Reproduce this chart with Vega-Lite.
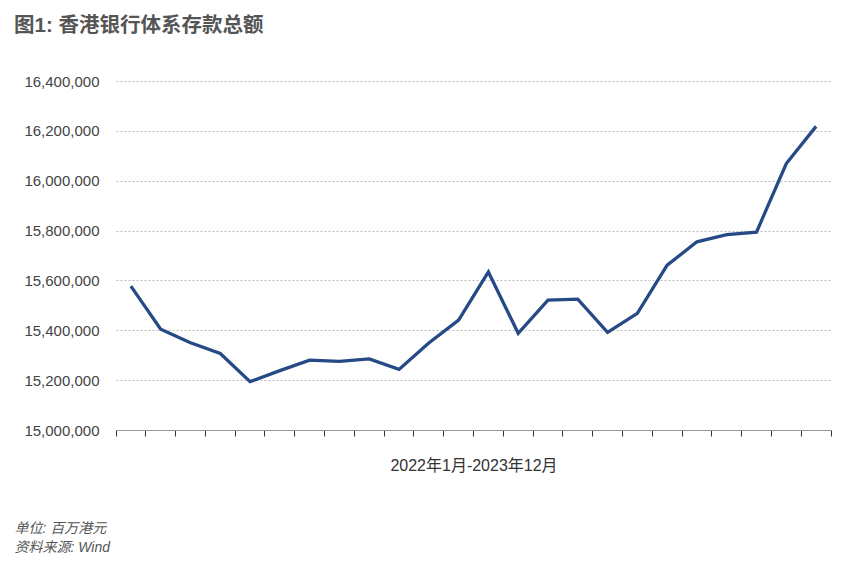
{
  "$schema": "https://vega.github.io/schema/vega-lite/v6.json",
  "autosize": {"type": "none"},
  "width": 715,
  "height": 349,
  "padding": {"left": 116, "top": 81, "right": 22, "bottom": 137},
  "background": "white",
  "title": {
    "text": "图1: 香港银行体系存款总额",
    "anchor": "start",
    "frame": "group",
    "dx": -102,
    "offset": 38,
    "font": "Liberation Sans, Noto Sans CJK SC",
    "fontSize": 20.5,
    "fontWeight": "bold",
    "color": "#555555"
  },
  "config": {
    "view": {"stroke": null},
    "font": "Liberation Sans"
  },
  "data": {
    "values": [
      {"month": "2022-01", "deposit": 15577000},
      {"month": "2022-02", "deposit": 15404000},
      {"month": "2022-03", "deposit": 15350000},
      {"month": "2022-04", "deposit": 15307000},
      {"month": "2022-05", "deposit": 15194000},
      {"month": "2022-06", "deposit": 15238000},
      {"month": "2022-07", "deposit": 15280000},
      {"month": "2022-08", "deposit": 15275000},
      {"month": "2022-09", "deposit": 15285000},
      {"month": "2022-10", "deposit": 15243000},
      {"month": "2022-11", "deposit": 15349000},
      {"month": "2022-12", "deposit": 15441000},
      {"month": "2023-01", "deposit": 15634000},
      {"month": "2023-02", "deposit": 15388000},
      {"month": "2023-03", "deposit": 15521000},
      {"month": "2023-04", "deposit": 15525000},
      {"month": "2023-05", "deposit": 15392000},
      {"month": "2023-06", "deposit": 15468000},
      {"month": "2023-07", "deposit": 15661000},
      {"month": "2023-08", "deposit": 15755000},
      {"month": "2023-09", "deposit": 15784000},
      {"month": "2023-10", "deposit": 15794000},
      {"month": "2023-11", "deposit": 16069000},
      {"month": "2023-12", "deposit": 16218000}
    ]
  },
  "mark": {"type": "line", "color": "#264a85", "strokeWidth": 3.3, "strokeJoin": "miter", "strokeCap": "butt"},
  "encoding": {
    "x": {
      "field": "month",
      "type": "ordinal",
      "scale": {"type": "band", "paddingInner": 0, "paddingOuter": 0},
      "axis": {
        "labels": false,
        "grid": false,
        "bandPosition": 1,
        "tickExtra": true,
        "tickSize": 6,
        "tickColor": "#333333",
        "tickWidth": 1,
        "domainColor": "#999999",
        "domainWidth": 1,
        "title": "2022年1月-2023年12月",
        "titleFont": "Liberation Sans, Noto Sans CJK SC",
        "titleFontSize": 16,
        "titleFontWeight": "normal",
        "titleColor": "#333333",
        "titlePadding": 21
      }
    },
    "y": {
      "field": "deposit",
      "type": "quantitative",
      "scale": {"domain": [15000000, 16400000], "nice": false, "zero": false},
      "axis": {
        "values": [15000000, 15200000, 15400000, 15600000, 15800000, 16000000, 16200000, 16400000],
        "format": ",d",
        "ticks": false,
        "domain": false,
        "labelPadding": 17,
        "labelFontSize": 15,
        "labelColor": "#444444",
        "grid": true,
        "gridColor": "#bbbbbb",
        "gridDash": [2, 2],
        "gridWidth": 1,
        "title": ["单位: 百万港元", "资料来源: Wind"],
        "titleAngle": 0,
        "titleAlign": "left",
        "titleBaseline": "middle",
        "titleX": -102,
        "titleY": 447,
        "titleLineHeight": 19,
        "titleFont": "Liberation Sans, Noto Sans CJK SC",
        "titleFontSize": 14,
        "titleFontStyle": "italic",
        "titleFontWeight": "normal",
        "titleColor": "#555555"
      }
    }
  }
}
